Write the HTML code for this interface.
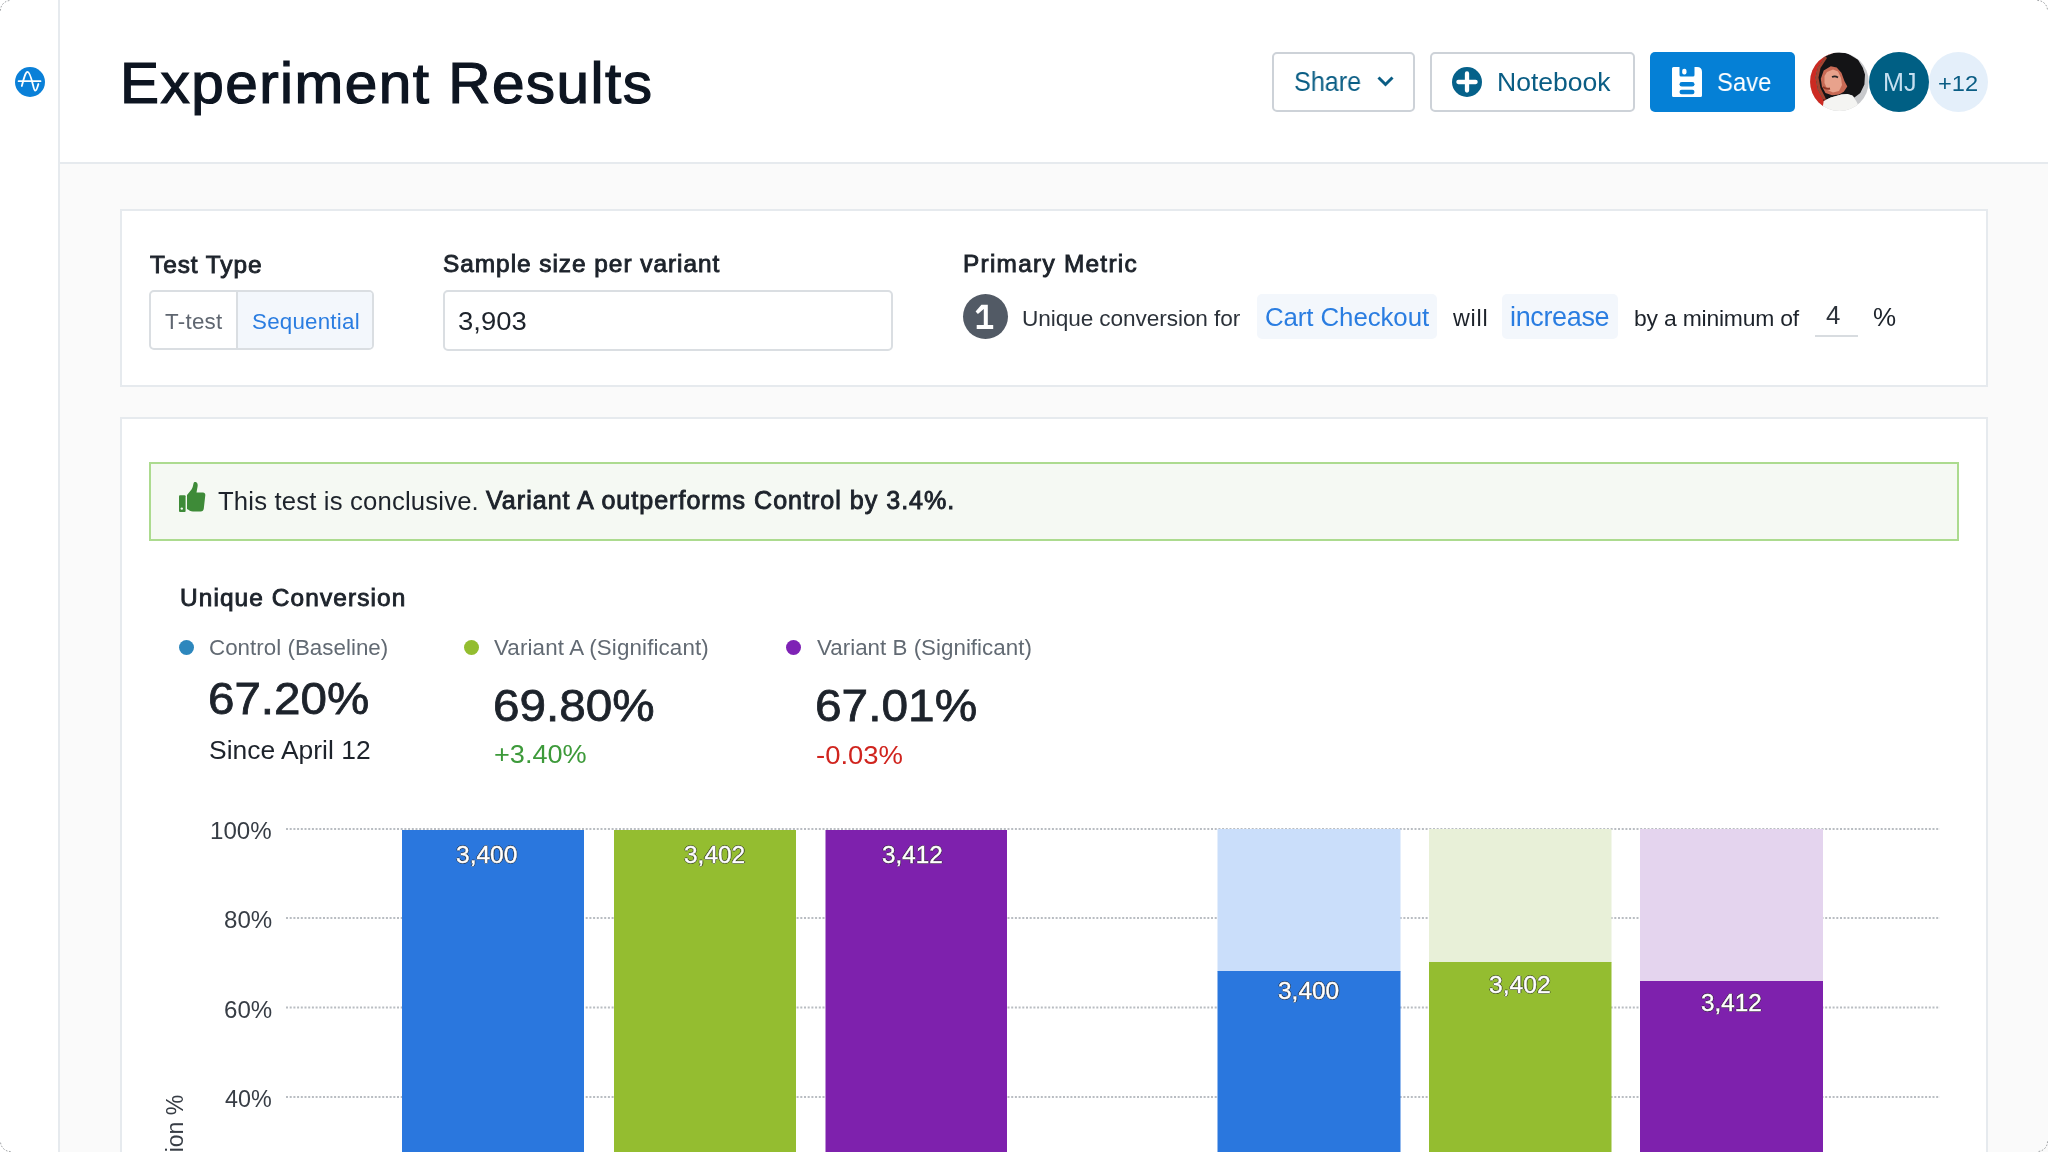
<!DOCTYPE html>
<html><head><meta charset="utf-8"><title>Experiment Results</title>
<style>
html,body{margin:0;padding:0;}
body{width:2048px;height:1152px;overflow:hidden;position:relative;background:#ffffff;font-family:"Liberation Sans",sans-serif;}
.a{position:absolute;box-sizing:border-box;}
.t{position:absolute;white-space:pre;font-family:"Liberation Sans",sans-serif;will-change:transform;}
</style></head><body>
<!-- main gray background -->
<div class="a" style="left:59px;top:163px;width:1989px;height:989px;background:#fafafa;"></div>
<!-- sidebar border -->
<div class="a" style="left:58px;top:0;width:2px;height:1152px;background:#e6eaee;"></div>
<!-- header border -->
<div class="a" style="left:60px;top:162px;width:1988px;height:2px;background:#e6eaee;"></div>
<!-- logo -->
<svg class="a" style="left:15px;top:67px" width="30" height="30" viewBox="0 0 30 30">
 <circle cx="15" cy="15" r="15" fill="#0a80d8"/>
 <path d="M3.6 14.2 H25.5" stroke="#fff" stroke-width="1.8" fill="none" stroke-linecap="round"/>
 <path d="M6.8 19 C9 11, 10.5 4.9, 12.5 4.9 C14.8 4.9, 16.5 12, 18 18 C18.8 21.5, 19.5 23.6, 20.3 23.6 C21.5 23.6, 22.6 20, 23.4 17" stroke="#fff" stroke-width="1.8" fill="none" stroke-linecap="round"/>
</svg>
<!-- header buttons -->
<div class="a" style="left:1272px;top:52px;width:143px;height:60px;border:2px solid #cdd2d8;border-radius:5px;background:#fff;"></div>
<svg class="a" style="left:1376px;top:75px" width="19" height="13" viewBox="0 0 19 13"><path d="M2.5 2.5 L9.5 9.5 L16.5 2.5" stroke="#0a5d84" stroke-width="3" fill="none"/></svg>
<div class="a" style="left:1430px;top:52px;width:205px;height:60px;border:2px solid #cdd2d8;border-radius:5px;background:#fff;"></div>
<svg class="a" style="left:1452px;top:67px" width="30" height="30" viewBox="0 0 30 30">
 <circle cx="15" cy="15" r="15" fill="#05618a"/>
 <path d="M6.4 15 H23.6 M15 6.4 V23.6" stroke="#fff" stroke-width="4.3" stroke-linecap="round"/>
</svg>
<div class="a" style="left:1650px;top:52px;width:145px;height:60px;border-radius:5px;background:#0580d6;"></div>
<svg class="a" style="left:1672px;top:67px" width="30" height="30" viewBox="0 0 30 30">
 <path d="M1.5 0 H7.5 V8 Q7.5 9.5 9 9.5 H21 Q22.5 9.5 22.5 8 V0 H25 Q30 0 30 5 V28.5 Q30 30 28.5 30 H1.5 Q0 30 0 28.5 V1.5 Q0 0 1.5 0 Z" fill="#fff"/>
 <rect x="10.2" y="1.8" width="4.3" height="5.8" rx="2" fill="#fff"/>
 <rect x="7.5" y="15" width="15" height="4.6" rx="2.3" fill="#0580d6"/>
 <rect x="7.5" y="22.8" width="15" height="4.4" rx="2.2" fill="#0580d6"/>
</svg>
<!-- avatars -->
<svg class="a" style="left:1810px;top:52px" width="60" height="60" viewBox="0 0 60 60">
 <defs><clipPath id="av"><circle cx="29.4" cy="29.8" r="29.3"/></clipPath></defs>
 <g clip-path="url(#av)">
  <rect x="0" y="0" width="60" height="60" fill="#c8c9cc"/>
  <path d="M0 0 H25.5 L15.5 4.3 L7.8 15.5 L5.4 25.5 L7.8 37.3 L13.1 47.4 L16.1 48 L13.1 54.4 L12 60 H0 Z" fill="#cc2a22"/>
  <path d="M25.5 0.1 L37.3 1.3 L48 7.8 L52.7 15.5 L55 22.6 L54.4 32.6 L50.3 40.9 L44.4 45.6 L42 43.2 L37.3 42 L31.4 42.6 L20.8 45.6 L13.7 49.1 L13.1 47.4 L7.8 37.3 L5.4 25.5 L7.8 15.5 L15.5 4.3 Z" fill="#141416"/>
  <path d="M15.5 4.3 L7.8 15.5 L5.4 25.5 L7.8 37.3 L13.1 47.4 L16.1 48 L15 45 L10.5 36 L8.5 25.5 L10.5 16 L17 6 Z" fill="#a34430"/>
  <path d="M13.7 18.4 L20.8 14.3 L26.7 15.5 L31.4 20.8 L34.4 29.1 L37.3 34.4 L33.8 39.7 L29.1 42.6 L22 43.2 L15.5 40.9 L11.9 34.4 L10.8 26.7 Z" fill="#c86a55"/>
  <path d="M17 20 L23 17.5 L28 19.5 L31 26 L32 33 L29 39 L23 40.5 L17.5 38 L14.5 31 L14.5 24 Z" fill="#e8a28c"/>
  <path d="M22 25 Q25 23.5 28 25.5" stroke="#2a2526" stroke-width="1.6" fill="none"/>
  <path d="M13 35 Q16.5 37.5 20 36.5" stroke="#8e3626" stroke-width="2" fill="none"/>
  <path d="M13.7 49.1 L20.8 45.6 L31.4 42.6 L37.3 42 L42.6 43.8 L46.2 49.1 L48 52.7 L50 60 H12 Z" fill="#f4f4f2"/>
 </g>
</svg>
<div class="a" style="left:1869px;top:52px;width:60px;height:60px;border-radius:50%;background:#005f84;"></div>
<div class="a" style="left:1929px;top:52px;width:59px;height:60px;border-radius:50%;background:#e4effa;"></div>

<!-- card 1 -->
<div class="a" style="left:120px;top:209px;width:1868px;height:178px;border:2px solid #e6eaee;background:#fff;"></div>
<!-- segmented control -->
<div class="a" style="left:149px;top:290px;width:225px;height:60px;border:2px solid #dadee2;border-radius:5px;background:#fff;overflow:hidden;">
 <div class="a" style="left:85px;top:0;width:138px;height:56px;background:#f3f7fc;border-left:2px solid #dadee2;"></div>
</div>
<!-- input -->
<div class="a" style="left:443px;top:290px;width:450px;height:61px;border:2px solid #dadee2;border-radius:5px;background:#fff;"></div>
<!-- circle 1 -->
<div class="a" style="left:962.5px;top:294px;width:45px;height:45px;border-radius:50%;background:#525a65;"></div>
<svg class="a" style="left:958px;top:290px" width="54" height="54" viewBox="0 0 54 54">
 <path d="M23.4 14.8 H29.8 V34.9 H35.2 V38.9 H18.7 V34.9 H25.8 V18.9 L19.9 24 L17.6 21.4 Z" fill="#fff"/>
</svg>
<!-- chips -->
<div class="a" style="left:1257px;top:294px;width:180px;height:45px;border-radius:5px;background:#f3f7fc;"></div>
<div class="a" style="left:1502px;top:294px;width:116px;height:45px;border-radius:5px;background:#f3f7fc;"></div>
<div class="a" style="left:1815px;top:335px;width:43px;height:2px;background:#d8dce0;"></div>

<!-- card 2 -->
<div class="a" style="left:120px;top:417px;width:1868px;height:760px;border:2px solid #e6eaee;background:#fff;"></div>
<!-- banner -->
<div class="a" style="left:149px;top:462px;width:1810px;height:79px;border:2px solid #acdb8f;background:#f5f9f3;"></div>
<svg class="a" style="left:178px;top:481px" width="28" height="31" viewBox="0 0 28 31">
 <rect x="1" y="14.2" width="6.6" height="16.8" rx="1" fill="#3e8b38"/>
 <circle cx="3.8" cy="27.6" r="1.2" fill="#f5f9f3"/>
 <path d="M9 14 L13.5 8.5 C14.5 7 15 5 15.5 2.5 C15.8 1 16.8 0.8 17.8 1 C19.5 1.5 20 3.5 19.5 6 L18.5 11.5 H25 C26.5 11.5 27.5 12.8 27.3 14.3 L25.8 27.5 C25.6 29.3 24.5 30.5 22.8 30.5 H15 C12.5 30.5 11 29 9 28 Z" fill="#3e8b38"/>
</svg>
<!-- legend dots -->
<div class="a" style="left:178.5px;top:640px;width:15px;height:15px;border-radius:50%;background:#2d87bd;"></div>
<div class="a" style="left:463.5px;top:640px;width:15px;height:15px;border-radius:50%;background:#93bd2f;"></div>
<div class="a" style="left:785.5px;top:640px;width:15px;height:15px;border-radius:50%;background:#7e22b5;"></div>

<!-- chart -->
<svg class="a" style="left:0;top:0" width="2048" height="1152">
 <g stroke="#b9bdc2" stroke-width="2" stroke-dasharray="2 1.7">
  <line x1="286" y1="829" x2="1940" y2="829"/>
  <line x1="286" y1="918" x2="1940" y2="918"/>
  <line x1="286" y1="1007.5" x2="1940" y2="1007.5"/>
  <line x1="286" y1="1097" x2="1940" y2="1097"/>
 </g>
 <rect x="402" y="830" width="182" height="330" fill="#2a77de"/>
 <rect x="614" y="830" width="182" height="330" fill="#94bd30"/>
 <rect x="825.5" y="830" width="181.5" height="330" fill="#7e21ad"/>
 <rect x="1217.5" y="829" width="183" height="143" fill="#cadefa"/>
 <rect x="1217.5" y="971" width="183" height="200" fill="#2a77de"/>
 <rect x="1429" y="829" width="182.5" height="134" fill="#e8f0d8"/>
 <rect x="1429" y="962" width="182.5" height="200" fill="#94bd30"/>
 <rect x="1640" y="829" width="183" height="153" fill="#e4d4ee"/>
 <rect x="1640" y="981" width="183" height="200" fill="#7e21ad"/>
</svg>
<div class="t" style="left:163.5px;top:1238px;font-size:23px;line-height:23px;color:#373d45;transform-origin:0 0;transform:rotate(-90deg);">Conversion %</div>
<div class="t" style="left:120px;top:56px;font-size:56.62px;line-height:56.62px;color:#0d1521;-webkit-text-stroke:1.2px #0d1521;letter-spacing:1.4px;transform-origin:0 0;transform:scaleX(1.0338);">Experiment Results</div>
<div class="t" style="left:1294px;top:68.4px;font-size:27.23px;line-height:27.23px;color:#0a5d84;transform-origin:0 0;transform:scaleX(0.9239);">Share</div>
<div class="t" style="left:1497px;top:69px;font-size:26.54px;line-height:26.54px;color:#0a5d84;">Notebook</div>
<div class="t" style="left:1717px;top:69.4px;font-size:26.54px;line-height:26.54px;color:#ffffff;transform-origin:0 0;transform:scaleX(0.8983);">Save</div>
<div class="t" style="left:1883px;top:70px;font-size:25.14px;line-height:25.14px;color:#c5dff0;">MJ</div>
<div class="t" style="left:1938px;top:73px;font-size:21.79px;line-height:21.79px;color:#0a5d84;transform-origin:0 0;transform:scaleX(1.0857);">+12</div>
<div class="t" style="left:150px;top:252.6px;font-size:24.41px;line-height:24.41px;color:#1d232b;-webkit-text-stroke:0.9px #1d232b;letter-spacing:0.938px;">Test Type</div>
<div class="t" style="left:165px;top:311px;font-size:22.35px;line-height:22.35px;color:#5f6670;letter-spacing:0.28px;">T-test</div>
<div class="t" style="left:252px;top:311px;font-size:22.35px;line-height:22.35px;color:#2a7de1;letter-spacing:0.222px;">Sequential</div>
<div class="t" style="left:443.3px;top:252.4px;font-size:24.41px;line-height:24.41px;color:#1d232b;-webkit-text-stroke:0.9px #1d232b;letter-spacing:0.968px;">Sample size per variant</div>
<div class="t" style="left:458px;top:308.8px;font-size:25.14px;line-height:25.14px;color:#1d232b;transform-origin:0 0;transform:scaleX(1.0918);">3,903</div>
<div class="t" style="left:963.4px;top:252.4px;font-size:24.41px;line-height:24.41px;color:#1d232b;-webkit-text-stroke:0.9px #1d232b;letter-spacing:1.262px;">Primary Metric</div>
<div class="t" style="left:1022.3px;top:307.8px;font-size:22.63px;line-height:22.63px;color:#2c323a;letter-spacing:-0.09px;">Unique conversion for</div>
<div class="t" style="left:1264.5px;top:304.8px;font-size:25.84px;line-height:25.84px;color:#2a7de1;letter-spacing:-0.083px;">Cart Checkout</div>
<div class="t" style="left:1453.2px;top:306.9px;font-size:23.32px;line-height:23.32px;color:#1d232b;letter-spacing:0.733px;">will</div>
<div class="t" style="left:1509.8px;top:303.9px;font-size:26.96px;line-height:26.96px;color:#2a7de1;letter-spacing:-0.329px;">increase</div>
<div class="t" style="left:1633.8px;top:306.75px;font-size:22.91px;line-height:22.91px;color:#1d232b;letter-spacing:-0.2px;">by a minimum of</div>
<div class="t" style="left:1826.1px;top:302.8px;font-size:25.84px;line-height:25.84px;color:#2c323a;">4</div>
<div class="t" style="left:1873.1px;top:303.75px;font-size:25.98px;line-height:25.98px;color:#1d232b;">%</div>
<div class="t" style="left:217.7px;top:488.9px;font-size:25.7px;line-height:25.7px;color:#1d232b;letter-spacing:0.165px;">This test is conclusive.</div>
<div class="t" style="left:485.5px;top:487.9px;font-size:25.11px;line-height:25.11px;color:#1d232b;-webkit-text-stroke:0.9px #1d232b;letter-spacing:0.976px;">Variant A outperforms Control by 3.4%.</div>
<div class="t" style="left:179.5px;top:585.6px;font-size:24.41px;line-height:24.41px;color:#1d232b;-webkit-text-stroke:0.9px #1d232b;letter-spacing:1.106px;">Unique Conversion</div>
<div class="t" style="left:208.6px;top:636.7px;font-size:22.35px;line-height:22.35px;color:#626a73;letter-spacing:0.024px;">Control (Baseline)</div>
<div class="t" style="left:494px;top:637.2px;font-size:22.35px;line-height:22.35px;color:#626a73;letter-spacing:0.127px;">Variant A (Significant)</div>
<div class="t" style="left:816.6px;top:637.2px;font-size:22.35px;line-height:22.35px;color:#626a73;letter-spacing:0.018px;">Variant B (Significant)</div>
<div class="t" style="left:208px;top:676.9px;font-size:44.64px;line-height:44.64px;color:#1d232b;-webkit-text-stroke:0.8px #1d232b;transform-origin:0 0;transform:scaleX(1.0651);">67.20%</div>
<div class="t" style="left:493.4px;top:683.3px;font-size:45.2px;line-height:45.2px;color:#1d232b;-webkit-text-stroke:0.8px #1d232b;transform-origin:0 0;transform:scaleX(1.0547);">69.80%</div>
<div class="t" style="left:815px;top:683.3px;font-size:45.2px;line-height:45.2px;color:#1d232b;-webkit-text-stroke:0.8px #1d232b;transform-origin:0 0;transform:scaleX(1.0587);">67.01%</div>
<div class="t" style="left:208.9px;top:738px;font-size:25.56px;line-height:25.56px;color:#1d232b;transform-origin:0 0;transform:scaleX(1.0344);">Since April 12</div>
<div class="t" style="left:493.7px;top:740.8px;font-size:25.98px;line-height:25.98px;color:#3d9a3a;transform-origin:0 0;transform:scaleX(1.0437);">+3.40%</div>
<div class="t" style="left:816px;top:742.3px;font-size:25.98px;line-height:25.98px;color:#d0241e;transform-origin:0 0;transform:scaleX(1.0568);">-0.03%</div>
<div class="t" style="left:210px;top:820.2px;font-size:23.04px;line-height:23.04px;color:#373d45;transform-origin:0 0;transform:scaleX(1.0464);">100%</div>
<div class="t" style="left:223.6px;top:909.2px;font-size:23.04px;line-height:23.04px;color:#373d45;transform-origin:0 0;transform:scaleX(1.0455);">80%</div>
<div class="t" style="left:223.6px;top:999.1px;font-size:23.04px;line-height:23.04px;color:#373d45;transform-origin:0 0;transform:scaleX(1.0455);">60%</div>
<div class="t" style="left:224.8px;top:1088px;font-size:23.04px;line-height:23.04px;color:#373d45;transform-origin:0 0;transform:scaleX(1.0133);">40%</div>
<div class="t" style="left:456.3px;top:843.8px;font-size:23.02px;line-height:23.02px;color:#ffffff;-webkit-text-stroke:0.4px #ffffff;transform-origin:0 0;transform:scaleX(1.0661);text-shadow:1px 0 0 rgba(40,40,40,.7),-1px 0 0 rgba(40,40,40,.7),0 1px 0 rgba(40,40,40,.7),0 -1px 0 rgba(40,40,40,.7);">3,400</div>
<div class="t" style="left:684px;top:843.8px;font-size:23.02px;line-height:23.02px;color:#ffffff;-webkit-text-stroke:0.4px #ffffff;transform-origin:0 0;transform:scaleX(1.0625);text-shadow:1px 0 0 rgba(40,40,40,.7),-1px 0 0 rgba(40,40,40,.7),0 1px 0 rgba(40,40,40,.7),0 -1px 0 rgba(40,40,40,.7);">3,402</div>
<div class="t" style="left:881.5px;top:843.8px;font-size:23.02px;line-height:23.02px;color:#ffffff;-webkit-text-stroke:0.4px #ffffff;transform-origin:0 0;transform:scaleX(1.0536);text-shadow:1px 0 0 rgba(40,40,40,.7),-1px 0 0 rgba(40,40,40,.7),0 1px 0 rgba(40,40,40,.7),0 -1px 0 rgba(40,40,40,.7);">3,412</div>
<div class="t" style="left:1278px;top:980.2px;font-size:23.02px;line-height:23.02px;color:#ffffff;-webkit-text-stroke:0.4px #ffffff;transform-origin:0 0;transform:scaleX(1.0625);text-shadow:1px 0 0 rgba(40,40,40,.7),-1px 0 0 rgba(40,40,40,.7),0 1px 0 rgba(40,40,40,.7),0 -1px 0 rgba(40,40,40,.7);">3,400</div>
<div class="t" style="left:1489px;top:973.8px;font-size:23.02px;line-height:23.02px;color:#ffffff;-webkit-text-stroke:0.4px #ffffff;transform-origin:0 0;transform:scaleX(1.0714);text-shadow:1px 0 0 rgba(40,40,40,.7),-1px 0 0 rgba(40,40,40,.7),0 1px 0 rgba(40,40,40,.7),0 -1px 0 rgba(40,40,40,.7);">3,402</div>
<div class="t" style="left:1700.5px;top:991.6px;font-size:23.02px;line-height:23.02px;color:#ffffff;-webkit-text-stroke:0.4px #ffffff;transform-origin:0 0;transform:scaleX(1.0536);text-shadow:1px 0 0 rgba(40,40,40,.7),-1px 0 0 rgba(40,40,40,.7),0 1px 0 rgba(40,40,40,.7),0 -1px 0 rgba(40,40,40,.7);">3,412</div>
<svg class="a" style="left:0;top:0" width="2048" height="1152">
 <g fill="none" stroke="#8f9396" stroke-width="1" stroke-dasharray="1.6 1.6">
  <path d="M0.5 10.5 A10 10 0 0 1 10.5 0.5"/>
  <path d="M2037.5 0.5 A10 10 0 0 1 2047.5 10.5"/>
  <path d="M2047.5 1141.5 A10 10 0 0 1 2037.5 1151.5"/>
  <path d="M10.5 1151.5 A10 10 0 0 1 0.5 1141.5"/>
 </g>
</svg>
</body></html>
